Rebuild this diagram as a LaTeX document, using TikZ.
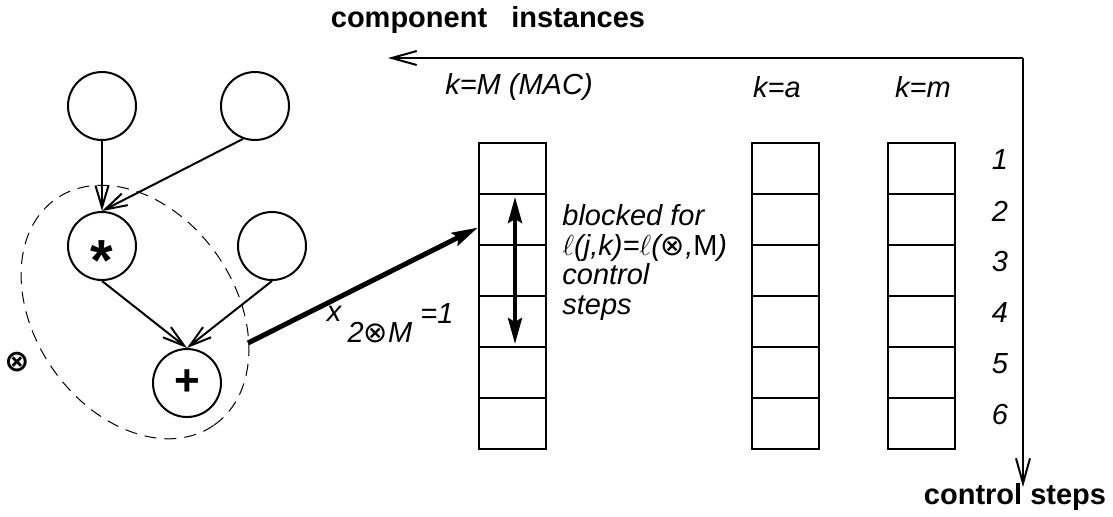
\documentclass[tikz,border=0pt]{standalone}
\usepackage{amsmath}
\usepackage{amssymb}
\usepackage{fontspec}
\setmainfont{Liberation Sans}
\newfontfamily\symfont{DejaVu Sans}
\newcommand{\ot}{{\symfont ⊗}}
\usetikzlibrary{arrows.meta}
\tikzset{%
  barbA/.tip={Straight Barb[length=11pt,width=6.5pt]},
  barbB/.tip={Straight Barb[length=12.5pt,width=7pt]},
  dartA/.tip={Stealth[length=13pt,width=7pt,inset=2pt]},
  op/.style={draw, circle, line width=1pt, minimum size=34pt, inner sep=0pt, font=\fontsize{22}{24}\bfseries},
  cell/.style={draw, line width=1pt, minimum width=33.5pt, minimum height=25.5pt, inner sep=0pt},
  lbl/.style={font=\fontsize{14.5}{14.8}\itshape, inner sep=0pt},
  axislbl/.style={font=\fontsize{14.5}{16}\bfseries, inner sep=0pt}
}

\begin{document}
\begin{tikzpicture}[x=0.5pt,y=0.5pt]
\useasboundingbox (0,0) rectangle (1113,-516);
% data flow graph
\node[op] (in1) at (102,-106) {};
\node[op] (in2) at (255,-106) {};
\node[op] (mul) at (102,-246) {\fontsize{29}{30}\selectfont\raisebox{-.6em}[0pt][0pt]{*}};
\node[op] (in3) at (272,-246) {};
\node[op] (add) at (187,-383) {+};
\draw[ line width=1pt , -barbA] (in1) -- (mul);
\draw[ line width=1pt , -barbA] (in2.250) -- (mul.north);
\draw[ line width=1pt , -barbA] (mul.south) -- (add.north);
\draw[ line width=1pt , -barbA] (in3.south) -- (add.north);
% the group of operations
\draw[line width=0.5pt, dash pattern=on 6pt off 4pt, rotate around={-55:(135,-312)}] (135,-312) ellipse [x radius=138, y radius=100];
\node (grp) at (17,-362) {\fontsize{15}{15}\selectfont\bfseries\ot};
% component instances
\foreach \col/\xc in {M/512.5, a/785.5, m/921.5}
  \foreach \r in {1,...,6}
    \node[cell] (\col-\r) at (\xc,{-168.5-51*(\r-1)}) {};
\node[lbl] (kM) at (519,-87) {k=M (MAC)};
\node[lbl] (ka) at (777,-87) {k=a};
\node[lbl] (km) at (923,-87) {k=m};
\foreach \r in {1,...,6}
  \node[lbl] (step\r) at (1000,{-160-51*(\r-1)}) {\r};
% axes
\coordinate (origin) at (1023,-58);
\coordinate (xend) at (388,-58);
\coordinate (yend) at (1023,-487);
\draw[ line width=1pt , -barbB] (origin) -- (xend);
\draw[ line width=1pt , -barbB] (origin) -- (yend);
\node[axislbl] (xlab) at (488,-20) {component\ \ \ instances};
\node[axislbl] (ylab) at (1015,-497) {control steps};
% binding of the group to the MAC
\coordinate (grpedge) at (248,-343);
\draw[ line width=2.5pt , -dartA] (grpedge) -- ([yshift=-4pt]M-2.west);
\draw[ line width=2pt , dartA-dartA] ([xshift=1.25pt,yshift=-2pt]M-2.north) -- ([xshift=1.25pt,yshift=2pt]M-4.south);
\node[lbl, align=left, anchor=north west] (blk) at (562,-204) {blocked for\\$\ell$(j,k)=$\ell$({\upshape\ot},\textup{M})\\control\\steps};
\node[lbl] (xvar) at (334,-314) {x};
\node[lbl] (xidx) at (380,-333) {2{\upshape\ot}M};
\node[lbl] (xval) at (437,-314) {=1};
\end{tikzpicture}
\end{document}
